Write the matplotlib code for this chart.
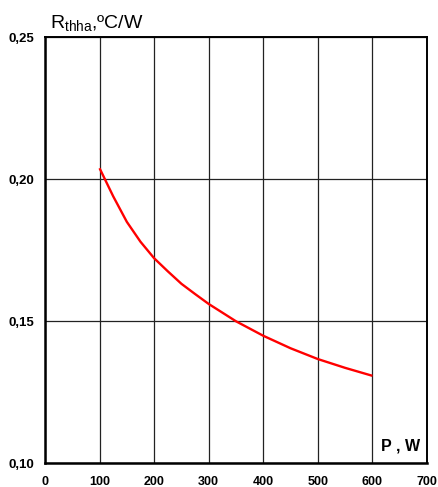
import matplotlib
matplotlib.use("Agg")
import matplotlib.pyplot as plt

plt.rcParams['font.family'] = ['Liberation Sans', 'DejaVu Sans']
plt.rcParams['mathtext.fontset'] = 'custom'
plt.rcParams['mathtext.rm'] = 'Liberation Sans'
plt.rcParams['mathtext.it'] = 'Liberation Sans:italic'

# power, W
power = [100, 125, 150, 175, 200, 225, 250, 275, 300, 350, 400, 450, 500, 550, 600]
# thermal resistance heatsink-ambient, C/W
r_thha = [0.2039, 0.1940, 0.1850, 0.1780, 0.1722, 0.1676, 0.1632, 0.1596, 0.1561,
          0.1500, 0.1449, 0.1405, 0.1367, 0.1336, 0.1308]

x_ticks = [0, 100, 200, 300, 400, 500, 600, 700]
y_ticks = [0.10, 0.15, 0.20, 0.25]
y_labels = ['0,10', '0,15', '0,20', '0,25']

fig = plt.figure(figsize=(4.39, 4.87), dpi=100)
ax = fig.add_axes([0.1025, 0.0487, 0.8702, 0.8747])

ax.plot(power, r_thha, color='#ff0000', lw=1.7, solid_capstyle='butt', zorder=3)

ax.set_xlim(0, 700)
ax.set_ylim(0.10, 0.25)
ax.set_xticks(x_ticks)
ax.set_xticklabels([str(v) for v in x_ticks], fontweight='bold', fontsize=9)
ax.set_yticks(y_ticks)
ax.set_yticklabels(y_labels, fontweight='bold', fontsize=9.5)
ax.tick_params(length=0, pad=8)
ax.tick_params(axis='x', pad=9)

ax.grid(True, color='#222222', lw=0.9)
for side in ['left', 'bottom']:
    ax.spines[side].set_linewidth(1.8)
for side in ['top', 'right']:
    ax.spines[side].set_linewidth(1.4)

fig.text(0.115, 0.943, r'R$_{\mathrm{thha}}$,ºC/W', fontsize=14, ha='left', va='baseline')
ax.text(0.983, 0.041, 'P , W', transform=ax.transAxes, fontsize=11.5,
        fontweight='bold', ha='right', va='center')

fig.savefig('out.png', dpi=100)
